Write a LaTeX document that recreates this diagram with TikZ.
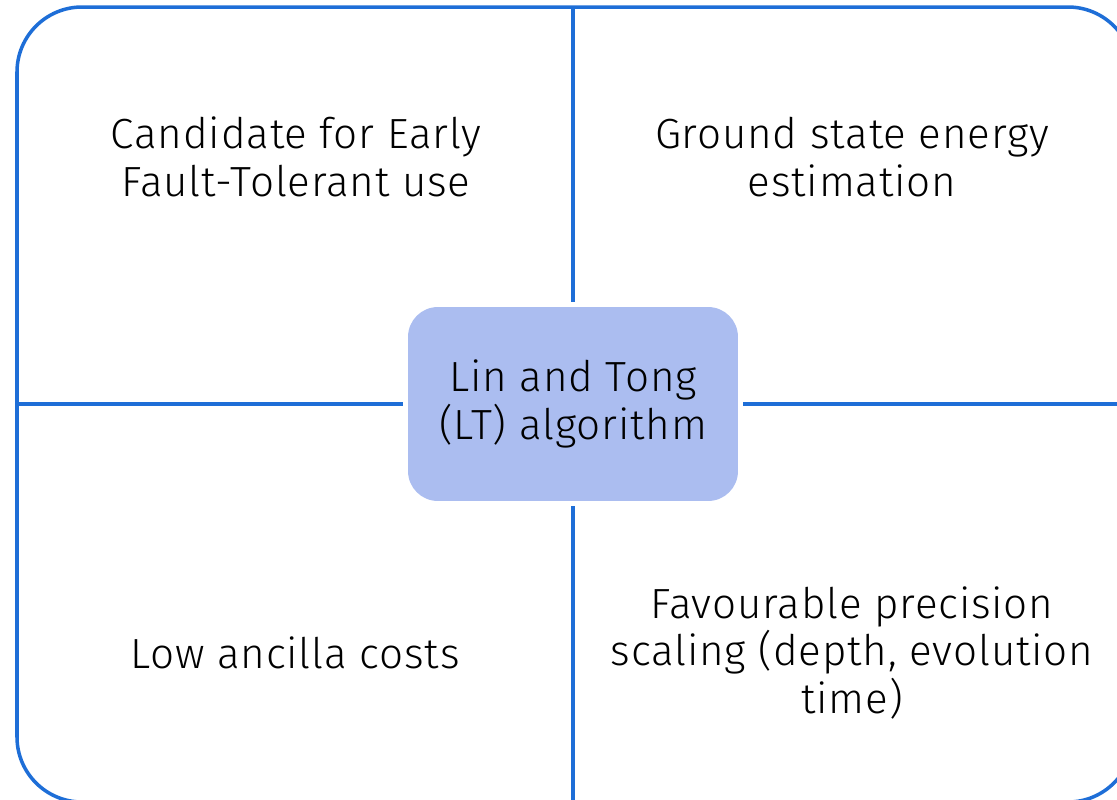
\documentclass[tikz,border=0pt]{standalone}
\usepackage{fontspec}
\setmainfont[LetterSpace=2]{Fira Sans Light}
\usepackage{xcolor}
\usetikzlibrary{positioning,calc}
\definecolor{frameBlue}{RGB}{30,110,215}
\definecolor{hubFill}{RGB}{171,189,240}

\begin{document}
\begin{tikzpicture}[x=0.02cm,y=-0.02cm,
  rule/.style={draw=frameBlue,line width=2pt},
  quad/.style={font=\fontsize{24}{27}\selectfont,align=center,text=black},
  hub/.style={fill=hubFill,rounded corners=17pt,minimum width=6.6cm,minimum height=3.88cm,
              outer sep=3pt,font=\fontsize{24}{27}\selectfont,align=center}]
  \useasboundingbox (0,0) rectangle (1117,799);
  \clip (0,0) rectangle (1117,799);
  \coordinate (ftl) at (17,7);
  \coordinate (fbr) at (1133,802);
  \draw[rule,rounded corners=37pt] (ftl) rectangle (fbr);
  \node[hub] (lt) at (573,404) {Lin and Tong\\(LT) algorithm};
  % quadrant lines
  \draw[rule] (lt.north) -- (lt.north |- ftl);
  \draw[rule] (lt.south) -- (lt.south |- fbr);
  \draw[rule] (lt.west) -- (lt.west -| ftl);
  \draw[rule] (lt.east) -- (lt.east -| fbr);
  % quadrant texts
  \node[quad] (eft) at (296,157) {Candidate for Early\\Fault-Tolerant use};
  \node[quad] (gse) at (852,157) {Ground state energy\\estimation};
  \node[quad] (anc) at (295,653) {Low ancilla costs};
  \node[quad] (prec) at (852,653) {Favourable precision\\scaling (depth, evolution\\time)};
\end{tikzpicture}
\end{document}
